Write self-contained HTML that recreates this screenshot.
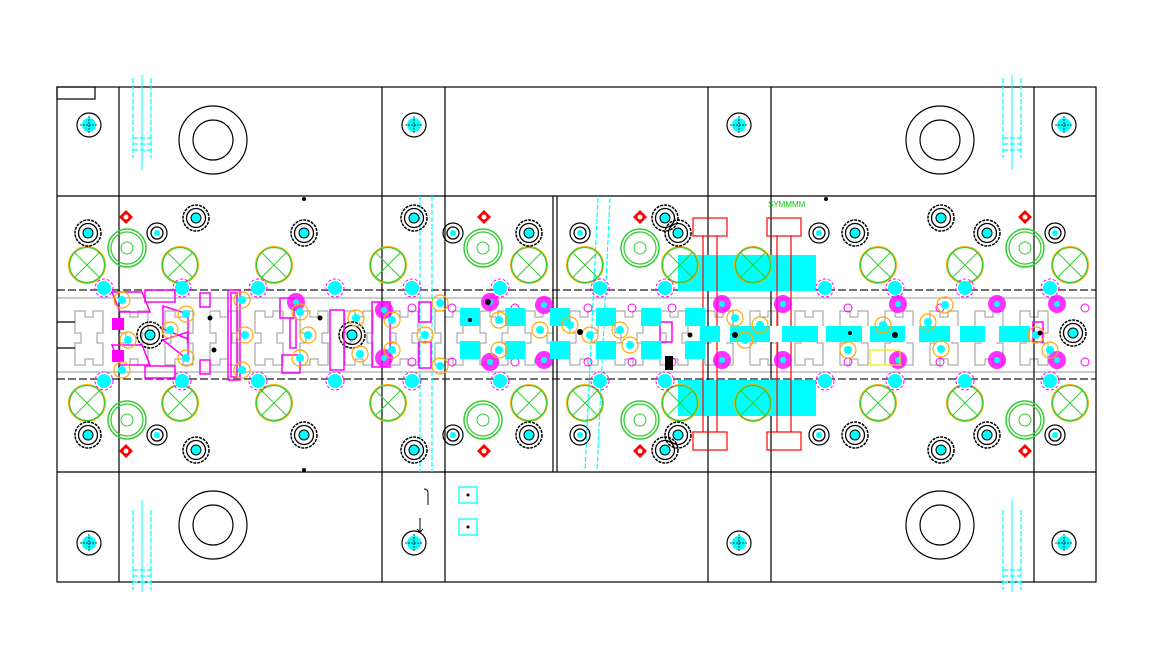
<!DOCTYPE html>
<html><head><meta charset="utf-8"><style>html,body{margin:0;padding:0;background:#fff;}svg{display:block}</style></head>
<body>
<svg width="1165" height="672" viewBox="0 0 1165 672" xmlns="http://www.w3.org/2000/svg" font-family="Liberation Sans, sans-serif">
<defs>
<g id="scr"><circle r="12" fill="none" stroke="#000" stroke-width="1.2"/><circle r="7" fill="#0ff"/><path d="M-9 0H9M0-9V9" stroke="#000" stroke-width=".8" stroke-dasharray="2 1"/></g>
<g id="bolt"><circle r="13" fill="none" stroke="#000" stroke-width="1.5" stroke-dasharray="3 1"/><circle r="9.5" fill="none" stroke="#000" stroke-width="1.3"/><circle r="5" fill="#0ff" stroke="#000"/></g>
<g id="sbolt"><circle r="10" fill="none" stroke="#000" stroke-width="1.2"/><circle r="6" fill="none" stroke="#000" stroke-width="1.3"/><circle r="3" fill="#0ff"/></g>
<g id="gx"><circle r="18.5" fill="none" stroke="#fa0" stroke-width="1"/><circle r="17.5" fill="none" stroke="#3c3" stroke-width="1.3"/><path d="M-12-12L12 12M12-12L-12 12" stroke="#3c3" stroke-width="1"/></g>
<g id="gr"><circle r="19" fill="none" stroke="#3c3" stroke-width="1.5"/><circle r="16" fill="none" stroke="#3c3" stroke-width="1.3"/><circle r="6" fill="none" stroke="#3c3" stroke-width="1"/></g>
<g id="rd"><path d="M0-7L7 0L0 7L-7 0Z" fill="#f00"/><circle r="2.5" fill="#fff"/></g>
<g id="cy"><circle r="7" fill="#0ff"/><circle r="9" fill="none" stroke="#f0f" stroke-width="1" stroke-dasharray="3 2"/></g>
<g id="or"><circle r="8" fill="none" stroke="#fa0" stroke-width="1.2"/><circle r="4" fill="#0ff"/></g>
<g id="mg"><circle r="4" fill="none" stroke="#f0f" stroke-width="1"/></g>
<g id="mgb"><circle r="9" fill="#f0f" opacity=".8"/><circle r="3" fill="#0ff"/></g>
<rect id="cq" width="20" height="18" fill="#0ff"/>
<path id="pin" d="M-9 0V80M9 0V80M-9 72H9M-9 66H9M-9 60H9" stroke="#0ff" stroke-width="1.2" fill="none" stroke-dasharray="5 2"/>
<path id="tooth" d="M0 0h10v6h8v-6h10v22h-6v10h6v22h-10v-6h-8v6h-10v-22h6v-10h-6z" fill="none" stroke="#999" stroke-width="1"/>
</defs>

<!-- strip background -->
<rect x="57" y="290" width="1039" height="89" fill="#fff"/>
<g>
<use href="#tooth" x="75" y="311"/><use href="#tooth" x="120" y="311"/><use href="#tooth" x="165" y="311"/><use href="#tooth" x="210" y="311"/><use href="#tooth" x="255" y="311"/><use href="#tooth" x="300" y="311"/><use href="#tooth" x="345" y="311"/><use href="#tooth" x="390" y="311"/><use href="#tooth" x="435" y="311"/><use href="#tooth" x="480" y="311"/><use href="#tooth" x="525" y="311"/><use href="#tooth" x="570" y="311"/><use href="#tooth" x="615" y="311"/><use href="#tooth" x="660" y="311"/><use href="#tooth" x="705" y="311"/><use href="#tooth" x="750" y="311"/><use href="#tooth" x="795" y="311"/><use href="#tooth" x="840" y="311"/><use href="#tooth" x="885" y="311"/><use href="#tooth" x="930" y="311"/><use href="#tooth" x="975" y="311"/><use href="#tooth" x="1020" y="311"/>
</g>
<path d="M57 298H1096M57 372H1096" stroke="#999" stroke-width="1"/>
<path d="M57 290H1096M57 379H1096" stroke="#444" stroke-width="1.5" stroke-dasharray="8 3"/>

<!-- frame -->
<g fill="none" stroke="#000" stroke-width="1.2">
<rect x="57" y="87" width="1039" height="495"/>
<rect x="57" y="87" width="38" height="12"/>
<path d="M57 196H1096M57 472H1096"/>
<path d="M119 87V582M382 87V582M445 87V582M708 87V582M771 87V582M1034 87V582"/>
<path d="M553 196V472M557 196V472"/>
<path d="M57 322H75M57 348H75"/>
</g>

<!-- big bosses -->
<g fill="none" stroke="#000" stroke-width="1.2">
<circle cx="213" cy="140" r="34"/><circle cx="213" cy="140" r="20"/>
<circle cx="940" cy="140" r="34"/><circle cx="940" cy="140" r="20"/>
<circle cx="213" cy="525" r="34"/><circle cx="213" cy="525" r="20"/>
<circle cx="940" cy="525" r="34"/><circle cx="940" cy="525" r="20"/>
</g>
<use href="#pin" x="142" y="78"/><use href="#pin" x="1012" y="78"/>
<use href="#pin" x="142" y="510"/><use href="#pin" x="1012" y="510"/>
<path d="M142 75V170M1012 75V170M142 500V592M1012 500V592" stroke="#0ff" stroke-width="1"/>

<use href="#scr" x="89" y="125"/><use href="#scr" x="414" y="125"/><use href="#scr" x="739" y="125"/><use href="#scr" x="1064" y="125"/>
<use href="#scr" x="89" y="543"/><use href="#scr" x="414" y="543"/><use href="#scr" x="739" y="543"/><use href="#scr" x="1064" y="543"/>

<!-- cyan slanted dashed bars -->
<path d="M420 196V472M432 196V472" stroke="#0ff" stroke-width="1.2" stroke-dasharray="5 2"/>
<path d="M598 198L585 470M610 198L597 470" stroke="#0ff" stroke-width="1.2" stroke-dasharray="5 2"/>

<!-- cyan blocks center -->
<rect x="678" y="255" width="138" height="36" fill="#0ff"/>
<rect x="678" y="380" width="138" height="36" fill="#0ff"/>
<g fill="none" stroke="#f00" stroke-width="1.2">
<rect x="693" y="218" width="34" height="18"/><rect x="767" y="218" width="34" height="18"/>
<rect x="693" y="432" width="34" height="18"/><rect x="767" y="432" width="34" height="18"/>
<path d="M703 236V432M717 236V432M777 236V432M791 236V432"/>
</g>
<text x="768" y="207" font-size="8" fill="#0c0">SYMMMM</text>

<!-- green x circles -->
<g>
<use href="#gx" x="87" y="265"/><use href="#gx" x="180" y="265"/><use href="#gx" x="274" y="265"/><use href="#gx" x="388" y="265"/><use href="#gx" x="529" y="265"/><use href="#gx" x="585" y="265"/><use href="#gx" x="680" y="265"/><use href="#gx" x="753" y="265"/><use href="#gx" x="878" y="265"/><use href="#gx" x="965" y="265"/><use href="#gx" x="1070" y="265"/>
<use href="#gx" x="87" y="403"/><use href="#gx" x="180" y="403"/><use href="#gx" x="274" y="403"/><use href="#gx" x="388" y="403"/><use href="#gx" x="529" y="403"/><use href="#gx" x="585" y="403"/><use href="#gx" x="680" y="403"/><use href="#gx" x="753" y="403"/><use href="#gx" x="878" y="403"/><use href="#gx" x="965" y="403"/><use href="#gx" x="1070" y="403"/>
<use href="#gr" x="127" y="248"/><use href="#gr" x="483" y="248"/><use href="#gr" x="640" y="248"/><use href="#gr" x="1025" y="248"/>
<use href="#gr" x="127" y="420"/><use href="#gr" x="483" y="420"/><use href="#gr" x="640" y="420"/><use href="#gr" x="1025" y="420"/>
</g>

<!-- bolts -->
<g>
<use href="#bolt" x="88" y="233"/><use href="#sbolt" x="157" y="233"/><use href="#bolt" x="196" y="218"/><use href="#bolt" x="304" y="233"/><use href="#bolt" x="414" y="218"/><use href="#sbolt" x="453" y="233"/><use href="#bolt" x="529" y="233"/><use href="#sbolt" x="580" y="233"/><use href="#bolt" x="665" y="218"/><use href="#bolt" x="678" y="233"/><use href="#sbolt" x="819" y="233"/><use href="#bolt" x="855" y="233"/><use href="#bolt" x="941" y="218"/><use href="#bolt" x="987" y="233"/><use href="#sbolt" x="1055" y="233"/>
<use href="#bolt" x="88" y="435"/><use href="#sbolt" x="157" y="435"/><use href="#bolt" x="196" y="450"/><use href="#bolt" x="304" y="435"/><use href="#bolt" x="414" y="450"/><use href="#sbolt" x="453" y="435"/><use href="#bolt" x="529" y="435"/><use href="#sbolt" x="580" y="435"/><use href="#bolt" x="665" y="450"/><use href="#bolt" x="678" y="435"/><use href="#sbolt" x="819" y="435"/><use href="#bolt" x="855" y="435"/><use href="#bolt" x="941" y="450"/><use href="#bolt" x="987" y="435"/><use href="#sbolt" x="1055" y="435"/>
<use href="#bolt" x="150" y="335"/><use href="#bolt" x="352" y="335"/><use href="#bolt" x="1073" y="333"/>
</g>
<use href="#rd" x="126" y="217"/><use href="#rd" x="484" y="217"/><use href="#rd" x="640" y="217"/><use href="#rd" x="1025" y="217"/>
<use href="#rd" x="126" y="451"/><use href="#rd" x="484" y="451"/><use href="#rd" x="640" y="451"/><use href="#rd" x="1025" y="451"/>

<!-- cyan pilots on strip edges -->
<g>
<use href="#cy" x="104" y="288"/><use href="#cy" x="182" y="288"/><use href="#cy" x="258" y="288"/><use href="#cy" x="335" y="288"/><use href="#cy" x="412" y="288"/><use href="#cy" x="500" y="288"/><use href="#cy" x="600" y="288"/><use href="#cy" x="665" y="288"/><use href="#cy" x="825" y="288"/><use href="#cy" x="895" y="288"/><use href="#cy" x="965" y="288"/><use href="#cy" x="1050" y="288"/>
<use href="#cy" x="104" y="381"/><use href="#cy" x="182" y="381"/><use href="#cy" x="258" y="381"/><use href="#cy" x="335" y="381"/><use href="#cy" x="412" y="381"/><use href="#cy" x="500" y="381"/><use href="#cy" x="600" y="381"/><use href="#cy" x="665" y="381"/><use href="#cy" x="825" y="381"/><use href="#cy" x="895" y="381"/><use href="#cy" x="965" y="381"/><use href="#cy" x="1050" y="381"/>
</g>

<!-- magenta punches left -->
<g fill="none" stroke="#f0f" stroke-width="1.5">
<path d="M112 292h30l8 20h-30z"/><path d="M112 345h30l8 20h-30z"/>
<rect x="145" y="290" width="30" height="12"/><rect x="145" y="366" width="30" height="12"/>
<path d="M163 306l25 8v25l-25-10z"/><path d="M163 340l25 -8v28z"/>
<rect x="200" y="293" width="10" height="14"/><rect x="200" y="360" width="10" height="14"/>
<rect x="228" y="290" width="12" height="90"/><rect x="231" y="293" width="6" height="84"/>
<rect x="280" y="298" width="14" height="20"/><rect x="290" y="318" width="6" height="30"/><rect x="282" y="355" width="18" height="18"/>
<rect x="330" y="310" width="14" height="60"/><rect x="372" y="302" width="18" height="65"/>
<rect x="419" y="302" width="12" height="20"/><rect x="419" y="342" width="12" height="26"/>
<rect x="660" y="322" width="12" height="20"/><rect x="1033" y="322" width="10" height="20"/>
</g>
<rect x="112" y="318" width="12" height="12" fill="#f0f"/><rect x="112" y="350" width="12" height="12" fill="#f0f"/>
<g>
<use href="#mgb" x="296" y="302"/><use href="#mgb" x="384" y="310"/><use href="#mgb" x="384" y="358"/><use href="#mgb" x="490" y="302"/><use href="#mgb" x="490" y="362"/><use href="#mgb" x="544" y="305"/><use href="#mgb" x="544" y="360"/><use href="#mgb" x="722" y="304"/><use href="#mgb" x="722" y="360"/><use href="#mgb" x="783" y="304"/><use href="#mgb" x="783" y="360"/><use href="#mgb" x="898" y="304"/><use href="#mgb" x="898" y="360"/><use href="#mgb" x="997" y="304"/><use href="#mgb" x="997" y="360"/><use href="#mgb" x="1057" y="304"/><use href="#mgb" x="1057" y="360"/>
<use href="#mg" x="412" y="308"/><use href="#mg" x="452" y="308"/><use href="#mg" x="515" y="308"/><use href="#mg" x="588" y="308"/><use href="#mg" x="632" y="308"/><use href="#mg" x="672" y="308"/><use href="#mg" x="848" y="308"/><use href="#mg" x="940" y="308"/><use href="#mg" x="1085" y="308"/>
<use href="#mg" x="412" y="362"/><use href="#mg" x="452" y="362"/><use href="#mg" x="515" y="362"/><use href="#mg" x="588" y="362"/><use href="#mg" x="632" y="362"/><use href="#mg" x="672" y="362"/><use href="#mg" x="848" y="362"/><use href="#mg" x="940" y="362"/><use href="#mg" x="1085" y="362"/>
</g>

<!-- cyan squares on strip -->
<g>
<use href="#cq" x="460" y="308"/><use href="#cq" x="460" y="341"/><use href="#cq" x="505" y="308"/><use href="#cq" x="505" y="341"/><use href="#cq" x="550" y="308"/><use href="#cq" x="550" y="341"/><use href="#cq" x="596" y="308"/><use href="#cq" x="596" y="341"/><use href="#cq" x="641" y="308"/><use href="#cq" x="641" y="341"/><use href="#cq" x="685" y="308"/><use href="#cq" x="685" y="341"/>
</g>
<rect x="700" y="326" width="330" height="16" fill="#0ff"/>
<g fill="#fff"><rect x="720" y="326" width="10" height="16"/><rect x="770" y="326" width="12" height="16"/><rect x="818" y="326" width="8" height="16"/><rect x="862" y="326" width="8" height="16"/><rect x="905" y="326" width="14" height="16"/><rect x="950" y="326" width="10" height="16"/><rect x="985" y="326" width="14" height="16"/></g>
<path d="M870 350h30v15h-30z" fill="none" stroke="#ee0" stroke-width="1.2"/>

<!-- orange screws on strip -->
<g>
<use href="#or" x="122" y="300"/><use href="#or" x="128" y="340"/><use href="#or" x="122" y="370"/><use href="#or" x="170" y="330"/><use href="#or" x="186" y="314"/><use href="#or" x="186" y="358"/><use href="#or" x="245" y="335"/><use href="#or" x="242" y="300"/><use href="#or" x="242" y="370"/><use href="#or" x="300" y="312"/><use href="#or" x="308" y="335"/><use href="#or" x="300" y="358"/><use href="#or" x="356" y="318"/><use href="#or" x="360" y="354"/><use href="#or" x="392" y="320"/><use href="#or" x="392" y="350"/><use href="#or" x="425" y="335"/><use href="#or" x="440" y="303"/><use href="#or" x="440" y="366"/><use href="#or" x="499" y="320"/><use href="#or" x="499" y="350"/><use href="#or" x="540" y="330"/><use href="#or" x="570" y="325"/><use href="#or" x="590" y="335"/><use href="#or" x="620" y="330"/><use href="#or" x="630" y="345"/><use href="#or" x="735" y="318"/><use href="#or" x="745" y="340"/><use href="#or" x="760" y="325"/><use href="#or" x="848" y="350"/><use href="#or" x="883" y="325"/><use href="#or" x="928" y="322"/><use href="#or" x="941" y="349"/><use href="#or" x="945" y="305"/><use href="#or" x="1036" y="335"/><use href="#or" x="1050" y="350"/>
</g>
<g fill="#000"><circle cx="210" cy="318" r="2.5"/><circle cx="214" cy="350" r="2.5"/><circle cx="320" cy="318" r="2.5"/><circle cx="488" cy="302" r="3"/><circle cx="470" cy="320" r="2"/><circle cx="580" cy="332" r="3"/><circle cx="690" cy="335" r="2.5"/><circle cx="735" cy="335" r="3"/><circle cx="850" cy="333" r="2"/><circle cx="895" cy="335" r="3"/><circle cx="1040" cy="333" r="2.5"/><circle cx="304" cy="199" r="2"/><circle cx="826" cy="199" r="2"/><circle cx="304" cy="470" r="2"/></g>
<rect x="665" y="356" width="8" height="14" fill="#000"/>

<!-- bottom small boxes -->
<g fill="none" stroke="#0ff" stroke-width="1.3"><rect x="459" y="487" width="18" height="16"/><rect x="459" y="519" width="18" height="16"/></g>
<circle cx="468" cy="495" r="1.5"/><circle cx="468" cy="527" r="1.5"/>
<path d="M428 505v-12q0-4-4-4M420 518v14l-3-3M420 532l3-3" fill="none" stroke="#000" stroke-width="1"/>
</svg>
</body></html>
